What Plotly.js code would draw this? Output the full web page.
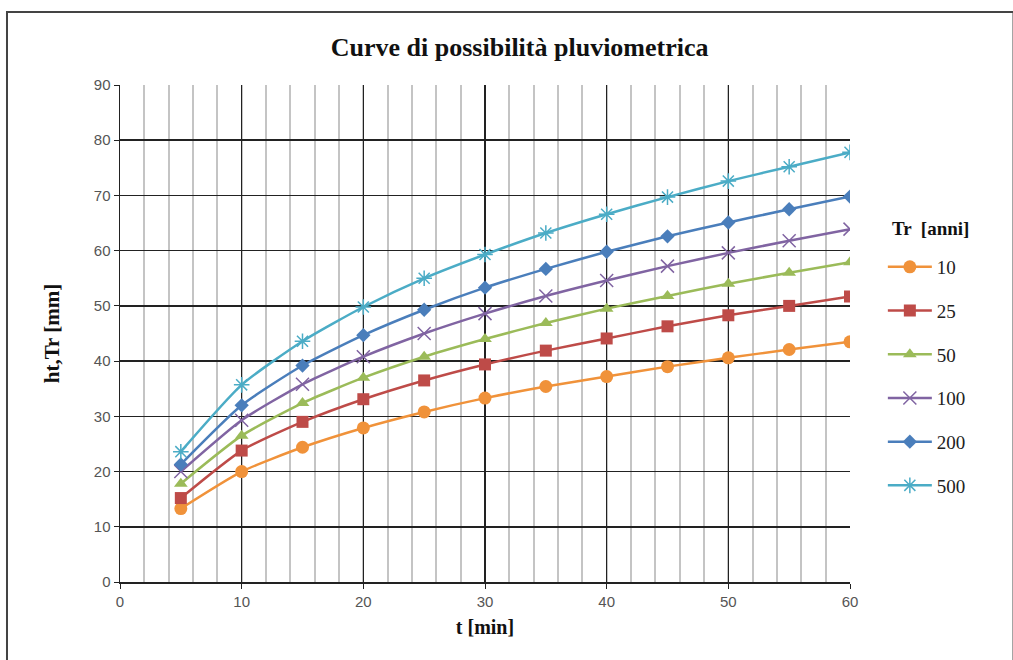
<!DOCTYPE html>
<html>
<head>
<meta charset="utf-8">
<script src="https://cdn.plot.ly/plotly-3.0.1.min.js"></script>
<style>html,body{margin:0;padding:0;background:#fff;}#chart{width:1013px;height:660px;}</style>
</head>
<body>
<div id="chart"></div>
<script>
const t = [5, 10, 15, 20, 25, 30, 35, 40, 45, 50, 55, 60];
const seriesNames = ["10", "25", "50", "100", "200", "500"];
const h10  = [13.3, 20.0, 24.4, 27.9, 30.8, 33.3, 35.4, 37.2, 39.0, 40.6, 42.1, 43.5];
const h25  = [15.2, 23.8, 29.0, 33.1, 36.5, 39.4, 41.9, 44.1, 46.3, 48.3, 50.0, 51.7];
const h50  = [17.8, 26.5, 32.4, 37.0, 40.8, 44.0, 46.9, 49.5, 51.8, 54.0, 56.0, 57.9];
const h100 = [20.0, 29.3, 35.8, 40.8, 45.0, 48.6, 51.8, 54.6, 57.2, 59.6, 61.8, 63.9];
const h200 = [21.3, 32.0, 39.2, 44.7, 49.3, 53.3, 56.7, 59.8, 62.6, 65.1, 67.5, 69.8];
const h500 = [23.6, 35.7, 43.6, 49.8, 55.0, 59.3, 63.2, 66.6, 69.7, 72.6, 75.2, 77.8];
const xTicks = [0, 10, 20, 30, 40, 50, 60];
const yTicks = [0, 10, 20, 30, 40, 50, 60, 70, 80, 90];

const values = [h10, h25, h50, h100, h200, h500];
const colors = ["#F0923A", "#BE4B48", "#9BBB59", "#8064A2", "#4A7EBB", "#4BACC6"];
const symbols = ["circle", "square", "triangle-up", "x-thin-open", "diamond", "asterisk-open"];
const sizes = [13, 12, 12, 13, 11, 13];

const traces = values.map((v, i) => ({
  x: t, y: v, name: seriesNames[i], type: "scatter", mode: "lines+markers",
  legendgroup: "g" + i,
  line: {color: colors[i], width: 2.5, shape: "spline", smoothing: 0.6},
  marker: {symbol: symbols[i], size: sizes[i], color: colors[i],
           line: {color: colors[i], width: (symbols[i].indexOf("open") >= 0 ? 1.5 : 0)}}
}));

const serif = "Liberation Serif, Times New Roman, serif";
const sans = "Liberation Sans, Arial, sans-serif";
const layout = {
  width: 1013, height: 660,
  margin: {l: 120, r: 163, t: 85, b: 78},
  paper_bgcolor: "#fff", plot_bgcolor: "#fff",
  title: {text: "<b>Curve di possibilità pluviometrica</b>", font: {family: serif, size: 26, color: "#111"},
          x: 0.513, xref: "container", y: 0.929, yref: "container", yanchor: "middle"},
  xaxis: {
    range: [0, 60], tickvals: xTicks, ticktext: xTicks.map(String),
    showgrid: true, gridcolor: "#222", gridwidth: 1.5,
    minor: {dtick: 2, showgrid: true, gridcolor: "#c4c4c4", gridwidth: 2, ticks: ""},
    showline: true, linecolor: "#222", linewidth: 1.5,
    ticks: "outside", ticklen: 5, tickcolor: "#222",
    zeroline: false,
    tickfont: {family: sans, size: 15, color: "#555"},
    title: {text: "<b>t [min]</b>", font: {family: serif, size: 20, color: "#111"}, standoff: 11}
  },
  yaxis: {
    range: [0, 90], tickvals: yTicks, ticktext: yTicks.map(String),
    showgrid: true, gridcolor: "#222", gridwidth: 1.5,
    showline: true, linecolor: "#222", linewidth: 1.5,
    ticks: "outside", ticklen: 5, tickcolor: "#222",
    zeroline: false,
    tickfont: {family: sans, size: 15, color: "#555"},
    title: {text: "<b>ht,Tr [mm]</b>", font: {family: serif, size: 21, color: "#111"}, standoff: 28}
  },
  legend: {
    x: 1.045, xanchor: "left", y: 0.672, yanchor: "top",
    traceorder: "grouped", tracegroupgap: 16, itemwidth: 44,
    font: {family: serif, size: 19, color: "#222"},
    bgcolor: "rgba(0,0,0,0)"
  },
  annotations: [{
    text: "<b>Tr  [anni]</b>", xref: "paper", yref: "paper",
    x: (890 - 120) / 730, y: (582 - 228) / 497, xanchor: "left", yanchor: "middle",
    showarrow: false, font: {family: serif, size: 19, color: "#111"}
  }],
  shapes: [{
    type: "rect", xref: "paper", yref: "paper",
    x0: -0.1548, x1: 1.224, y0: -0.16, y1: 1.147,
    line: {color: "#444", width: 2}, fillcolor: "rgba(0,0,0,0)", layer: "below"
  }],
  showlegend: true
};

Plotly.newPlot("chart", traces, layout, {displayModeBar: false, staticPlot: true});
</script>
</body>
</html>
